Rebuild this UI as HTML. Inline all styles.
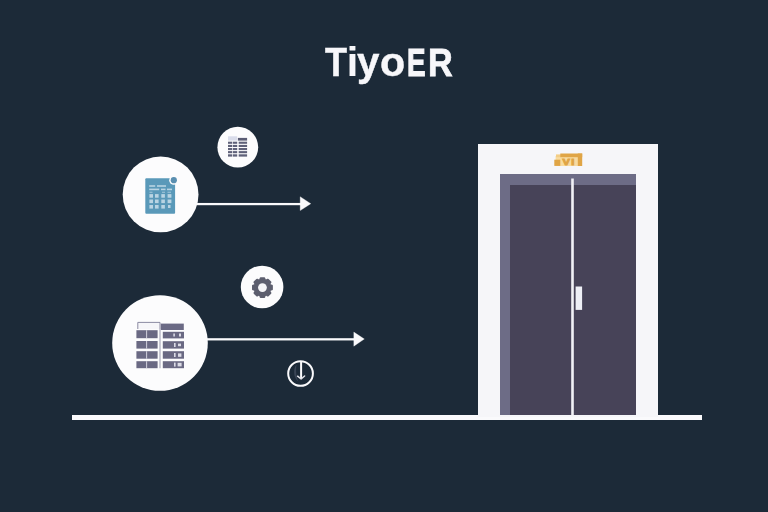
<!DOCTYPE html>
<html lang="en">
<head>
<meta charset="utf-8">
<title>TiyoER</title>
<style>
  html, body { margin: 0; padding: 0; }
  body { width: 768px; height: 512px; overflow: hidden; background: #1c2a38; position: relative;
         font-family: "Liberation Sans", sans-serif; }
  #stage { position: absolute; left: 0; top: 0; width: 768px; height: 512px; overflow: hidden; }
  #title { position: absolute; left: 0; top: 38px; width: 768px; height: 48px; margin: 0; color: #f7f7fa;
           font-family: "Liberation Sans", sans-serif; font-weight: bold; font-size: 40.7px; line-height: 48px;
           white-space: nowrap; will-change: transform; }
  #title span { position: relative; top: 0; display: inline-block; width: 0; height: 48px; vertical-align: top; overflow: visible; transform-origin: 0 38px; -webkit-text-stroke: 0.4px #f7f7fa; }
  svg { position: absolute; left: 0; top: 0; }
</style>
</head>
<body>
<div id="stage">
<svg width="768" height="512" viewBox="0 0 768 512">
  <!-- ground line -->
  <rect x="72" y="415" width="630" height="5" fill="#fafafc"/>

  <!-- elevator -->
  <rect x="478" y="144" width="180" height="273" fill="#f6f6f9"/>
  <rect x="500" y="174" width="136" height="241" fill="#6d6c86"/>
  <rect x="510" y="185" width="126" height="230" fill="#474358"/>
  <rect x="571.2" y="178.5" width="2.6" height="237" fill="#f1f1f6"/>
  <rect x="575.6" y="286.5" width="6.5" height="23.4" fill="#eeeff6"/>

  <!-- sign -->
  <g>
    <rect x="555.6" y="156" width="23" height="10" fill="#f8dba0"/>
    <rect x="556" y="154.4" width="5" height="2.8" fill="#f3cd86"/>
    <rect x="560.3" y="153.5" width="21.9" height="3.7" fill="#e0a546"/>
    <rect x="577.8" y="153.5" width="4.4" height="12.5" fill="#e0a546"/>
    <rect x="554.3" y="159.7" width="6" height="6.2" fill="#e0a546"/>
    <text x="0" y="0" transform="translate(562.6 165.2) scale(1.22 0.95)" font-family="Liberation Sans, sans-serif" font-weight="bold" font-size="9" letter-spacing="1.1" fill="#e0a546" stroke="#e0a546" stroke-width="0.95">VI</text>
  </g>

  <!-- arrows -->
  <rect x="196" y="202.95" width="105" height="2.25" fill="#fafafc"/>
  <path d="M300.2 196.7 L310.8 203.7 L300.2 210.6 Z" fill="#fafafc" stroke="#fafafc" stroke-width="0.3" stroke-linejoin="round"/>
  <rect x="205" y="338.2" width="150" height="2.25" fill="#fafafc"/>
  <path d="M353.8 332.1 L364.3 339 L353.8 346.2 Z" fill="#fafafc" stroke="#fafafc" stroke-width="0.3" stroke-linejoin="round"/>

  <!-- circle 1 -->
  <circle cx="160.6" cy="194.4" r="37.9" fill="#fcfcfd"/>
  <rect x="145.3" y="178.3" width="29.8" height="35.4" rx="1" fill="#5a99b9"/>
  <circle cx="173.8" cy="180.2" r="4.6" fill="#fcfcfd"/>
  <circle cx="173.8" cy="180.2" r="3.1" fill="#5a8fb0"/>

  <g fill="#b9d4e3">
    <rect x="149.2" y="185.2" width="6" height="1.6"/><rect x="157" y="185.2" width="9" height="1.6"/>
    <rect x="149.2" y="188.6" width="10" height="1.6"/><rect x="161" y="188.6" width="4.5" height="1.6"/><rect x="167" y="188.6" width="5" height="1.6"/>
    <rect x="149.5" y="191.8" width="3" height="0.8"/><rect x="162" y="191.8" width="3" height="0.8"/><rect x="167.5" y="191.8" width="3.5" height="0.8"/>
    <rect x="149.4" y="194.1" width="3.6" height="3.6"/><rect x="155" y="194.1" width="3.6" height="3.6"/><rect x="161.3" y="194.1" width="3.6" height="3.6"/><rect x="167.6" y="194.1" width="3.8" height="3.6"/>
    <rect x="149.4" y="199.5" width="3.6" height="3.6"/><rect x="155" y="199.5" width="3.6" height="3.6"/><rect x="161.3" y="199.5" width="3.6" height="3.6"/><rect x="167.6" y="199.5" width="3.8" height="3.6"/>
    <rect x="149.4" y="205" width="3.6" height="3.6"/><rect x="155" y="205" width="3.6" height="3.6"/><rect x="161.3" y="205" width="3.6" height="3.6"/><rect x="168" y="205" width="2.5" height="3"/>
  </g>

  <!-- small circle 1 -->
  <circle cx="237.8" cy="147.2" r="20.4" fill="#fcfcfd"/>

  <g>
    <rect x="228" y="136.3" width="9.2" height="4.3" fill="#d9dcea"/>
    <rect x="237.9" y="137.9" width="9.2" height="2.7" fill="#5a5c74"/>
    <g fill="#5f6179">
      <rect x="228" y="141.7" width="4.3" height="2.1"/><rect x="233" y="141.7" width="4.2" height="2.1"/><rect x="238.7" y="141.7" width="8.4" height="2.1"/>
      <rect x="228" y="144.9" width="4.3" height="2.1"/><rect x="233" y="144.9" width="4.2" height="2.1"/><rect x="238.7" y="144.9" width="8.4" height="2.1"/>
      <rect x="228" y="148" width="4.3" height="2.1"/><rect x="233" y="148" width="4.2" height="2.1"/><rect x="238.7" y="148" width="8.4" height="2.1"/>
      <rect x="228" y="151.1" width="4.3" height="2.1"/><rect x="233" y="151.1" width="4.2" height="2.1"/><rect x="238.7" y="151.1" width="8.4" height="2.1"/>
      <rect x="228" y="154.3" width="4.3" height="2.3"/><rect x="233" y="154.3" width="4.2" height="2.3"/><rect x="238.7" y="154.3" width="8.4" height="2.3"/>
    </g>
  </g>

  <!-- circle 2 -->
  <circle cx="160" cy="343" r="47.8" fill="#fcfcfd"/>

  <g>
    <path d="M137.8 329 V322.4 H160 V329" fill="#f6f6f9" stroke="#7f7e98" stroke-width="0.9"/>
    <rect x="160.8" y="323.6" width="23" height="6.4" fill="#6b6a85"/>
    <rect x="159.5" y="329" width="1" height="39.2" fill="#9a99ae"/>
    <g fill="#6a6983">
      <rect x="136.4" y="330.2" width="21.2" height="8"/><rect x="162.8" y="331.8" width="21.2" height="6.6"/>
      <rect x="136.4" y="341" width="21.2" height="7.6"/><rect x="162.8" y="341.2" width="21.2" height="7.4"/>
      <rect x="136.4" y="351.2" width="21.2" height="7.5"/><rect x="162.8" y="351.2" width="21.2" height="7.5"/>
      <rect x="136.4" y="361.2" width="21.2" height="7"/><rect x="162.8" y="361.2" width="21.2" height="7"/>
    </g>
    <g fill="#dcdce6">
      <rect x="146.2" y="330.2" width="0.9" height="8"/><rect x="146.2" y="341" width="0.9" height="7.6"/><rect x="146.2" y="351.2" width="0.9" height="7.5"/><rect x="146.2" y="361.2" width="0.9" height="7"/>
      <rect x="173.3" y="333.5" width="1.6" height="3"/><rect x="179" y="333.5" width="2" height="3"/>
      <rect x="174" y="343" width="1.6" height="4"/><rect x="178" y="343.6" width="3" height="2.6"/>
      <rect x="174" y="353" width="1.6" height="4"/><rect x="178" y="353.4" width="3.4" height="3.4"/>
      <rect x="174" y="362.6" width="1.6" height="4"/><rect x="177.6" y="362.8" width="4" height="3.6"/>
    </g>
  </g>

  <!-- gear circle -->
  <circle cx="262.1" cy="287" r="21.3" fill="#fcfcfd"/>

  <path d="M260.16 279.93 L260.64 278.17 L264.26 278.17 L264.74 279.93 L266.25 280.56 L267.83 279.65 L270.40 282.22 L269.49 283.80 L270.12 285.31 L271.88 285.79 L271.88 289.41 L270.12 289.89 L269.49 291.40 L270.40 292.98 L267.83 295.55 L266.25 294.64 L264.74 295.27 L264.26 297.03 L260.64 297.03 L260.16 295.27 L258.65 294.64 L257.07 295.55 L254.50 292.98 L255.41 291.40 L254.78 289.89 L253.02 289.41 L253.02 285.79 L254.78 285.31 L255.41 283.80 L254.50 282.22 L257.07 279.65 L258.65 280.56 Z" fill="#5c5e6e" stroke="#5c5e6e" stroke-width="2" stroke-linejoin="round"/>
  <circle cx="262.45" cy="287.6" r="4.4" fill="#f4f4f7"/>

  <!-- clock -->
  <circle cx="300.55" cy="373.5" r="12.35" fill="none" stroke="#fafafc" stroke-width="2"/>
  <path d="M296.6 364.5 C293 368 293 378 298.5 381.5 C296 378 295.6 369 296.6 364.5 Z" fill="#3a4556"/>
  <rect x="300.1" y="361.7" width="2" height="16.6" fill="#fafafc"/>
  <path d="M297.6 376.2 L301.1 379 L304.6 376" fill="none" stroke="#e4e4ea" stroke-width="1.5" stroke-linecap="round" stroke-linejoin="round"/>
</svg>
<h1 id="title"><span style="left:324.7px;top:0px;transform:scale(0.885,0.979);-webkit-text-stroke-width:0.5px">T</span><span style="left:347.3px;top:0px;transform:scale(0.970,0.993);-webkit-text-stroke-width:0.2px">i</span><span style="left:357.0px;top:0px;transform:scale(0.990,0.986);-webkit-text-stroke-width:0.4px">y</span><span style="left:380.4px;top:0px;transform:scale(1.012,0.986);-webkit-text-stroke-width:0.4px">o</span><span style="left:407.3px;top:0px;transform:scale(0.684,0.940);-webkit-text-stroke-width:1.2px">E</span><span style="left:428.1px;top:0px;transform:scale(0.843,0.955);-webkit-text-stroke-width:0.8px">R</span></h1>
</div>
</body>
</html>
